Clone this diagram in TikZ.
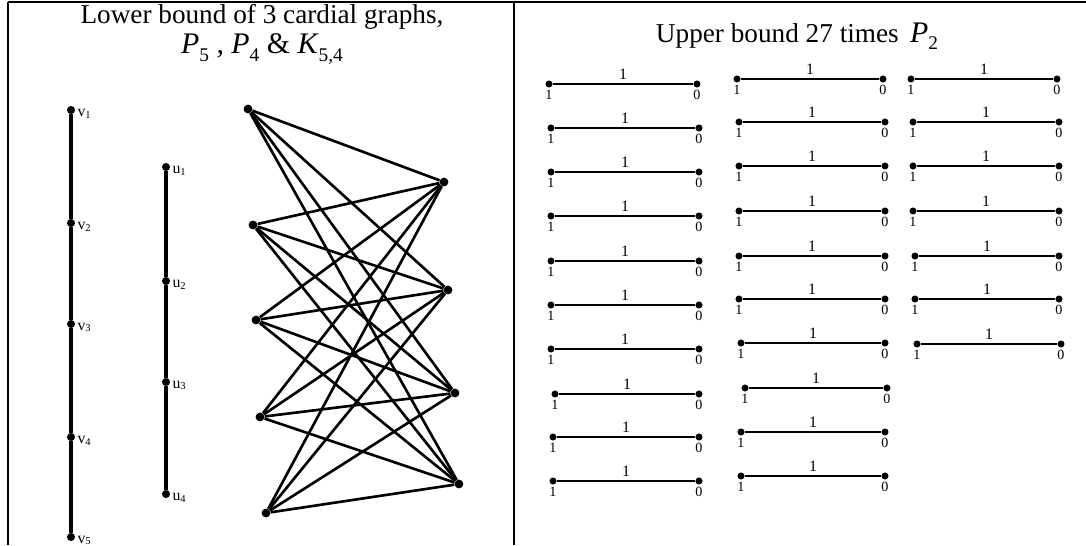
\documentclass[tikz,border=0pt]{standalone}
\usepackage{fontspec}
\setmainfont{Liberation Serif}
\usetikzlibrary{positioning}
\newcommand{\lowsub}[1]{\raisebox{-0.55ex}{\fontsize{11}{11}\selectfont #1}}

\begin{document}
\begin{tikzpicture}[x=0.02cm,y=-0.02cm,
  pathdot/.style={circle,fill=black,inner sep=0pt,minimum size=4.6pt},
  kdot/.style={circle,fill=black,inner sep=0pt,minimum size=5pt},
  pdot/.style={circle,fill=black,inner sep=0pt,minimum size=4pt},
  vlab/.style={font=\fontsize{9}{9}\selectfont,inner sep=1pt,yshift=-2pt},
  endlab/.style={font=\fontsize{8}{8}\selectfont,inner sep=1pt},
  wt/.style={font=\fontsize{9}{9}\selectfont,inner sep=2pt},
  title/.style={font=\fontsize{15.5}{18}\selectfont,align=center,inner sep=0pt}]
  \useasboundingbox (0,0) rectangle (1086,545);
  % table rules
  \draw[line width=1.3pt](8,2)--(1086,2);
  \draw[line width=1.1pt](8,2)--(8,545);
  \draw[line width=1.1pt](514,2)--(514,545);
  % titles
  \node[title] (lefttitle) at (262,17){Lower bound of 3 cardial graphs,};
  \node[title,font=\fontsize{17}{19}\selectfont] (leftsub) at (262,49){\textit{P}\lowsub{5} , \textit{P}\lowsub{4} \& \textit{K}\lowsub{5,4}};
  \node[title] (righttitle) at (797,36){Upper bound 27 times\, {\fontsize{17}{19}\selectfont\textit{P}}\lowsub{2}};
  % path P5
  \foreach \i/\y in {1/110,2/223,3/324,4/437,5/537}{
    \node[pathdot,label={[vlab]right:v\textsubscript{\i}}] (v\i) at (71,\y){};
  }
  \foreach \i/\j in {1/2,2/3,3/4,4/5}{
    \draw[line width=2.6pt](v\i)--(v\j);
  }
  % path P4
  \foreach \i/\y in {1/167,2/281,3/382,4/494}{
    \node[pathdot,label={[vlab]right:u\textsubscript{\i}}] (u\i) at (166,\y){};
  }
  \foreach \i/\j in {1/2,2/3,3/4}{
    \draw[line width=2.6pt](u\i)--(u\j);
  }
  % complete bipartite K54
  \foreach \i/\x/\y in {1/248/109,2/253/225,3/256/320,4/260/417,5/266/513}{
    \node[kdot] (a\i) at (\x,\y){};
  }
  \foreach \j/\x/\y in {1/444/182,2/448/290,3/455/393,4/459/484}{
    \node[kdot] (b\j) at (\x,\y){};
  }
  \foreach \i in {1,...,5}{
    \foreach \j in {1,...,4}{
      \draw[line width=1.5pt](a\i)--(b\j);
    }
  }
  % 27 copies of P2
  \foreach \n/\xl/\xr/\y in {1/549/697/84,2/551/699/128,3/551/699/172,4/551/699/216,
      5/551/699/261,6/551/699/305,7/551/699/349,8/555/699/394,9/553/699/437,10/553/699/481,
      11/737/883/79,12/739/885/122,13/739/885/166,14/739/885/211,15/739/885/256,
      16/739/885/299,17/741/885/343,18/745/887/388,19/741/885/432,20/741/885/476,
      21/911/1057/79,22/913/1059/122,23/913/1059/166,24/913/1059/211,25/915/1059/256,
      26/915/1059/299,27/917/1061/344}{
    \node[pdot,label={[endlab]below:1}] (l\n) at (\xl,\y){};
    \node[pdot,label={[endlab]below:0}] (r\n) at (\xr,\y){};
    \draw[line width=1.3pt](l\n)--node[above,wt]{1}(r\n);
  }
\end{tikzpicture}
\end{document}
